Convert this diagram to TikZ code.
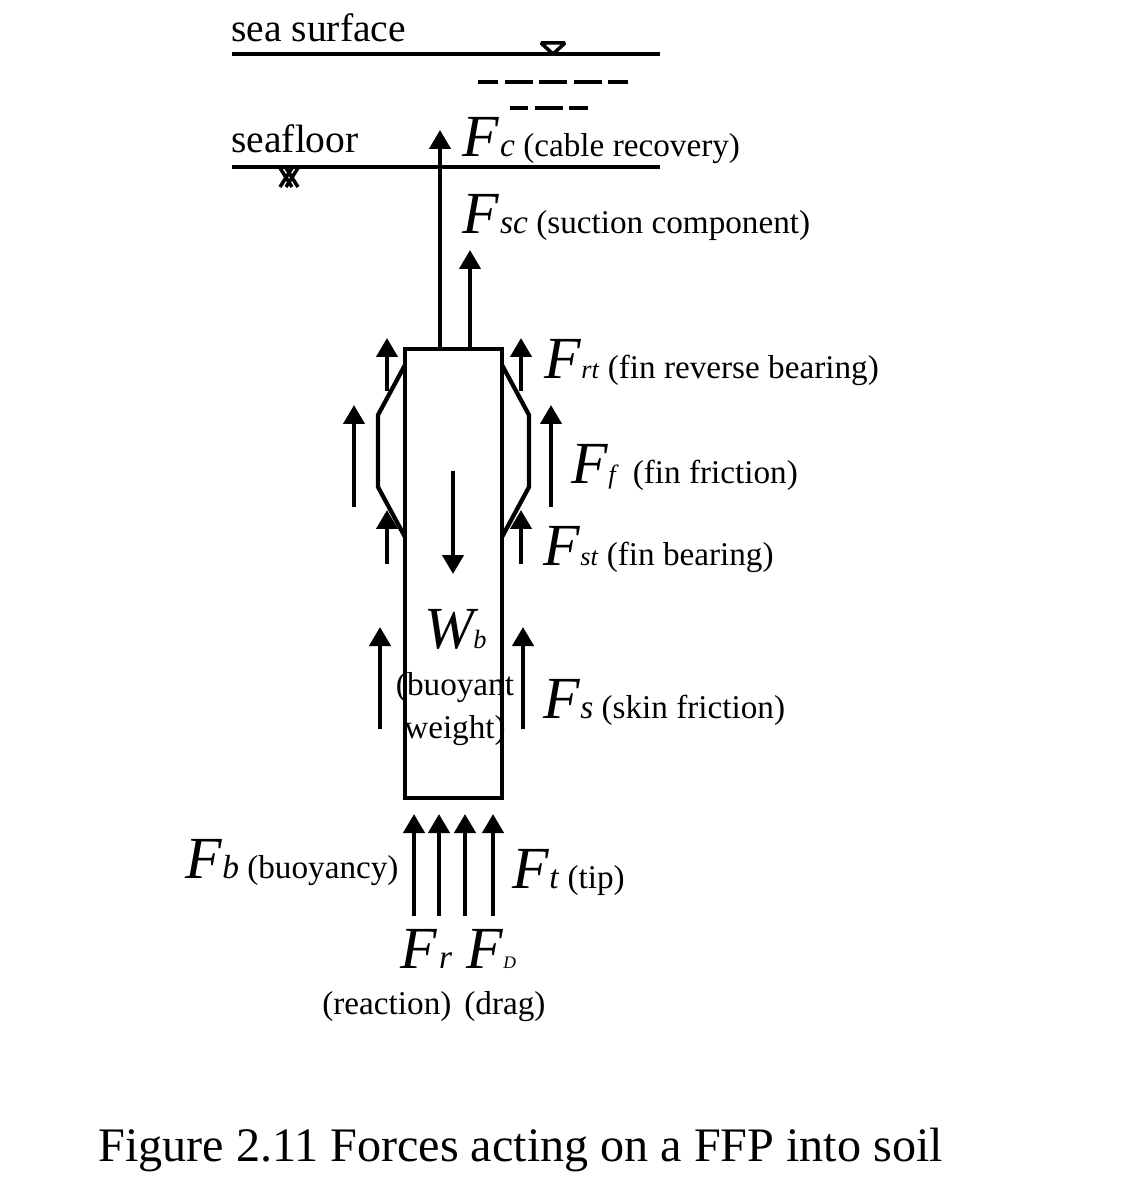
\documentclass[tikz,border=0pt]{standalone}
\usepackage{fontspec}
\setmainfont{Liberation Serif}
\usetikzlibrary{arrows.meta}
\newcommand{\bigF}[1]{{\fontsize{34}{34}\selectfont\textit{#1}}}
\newcommand{\subF}[1]{{\fontsize{19}{19}\selectfont\textit{#1}}}
\newcommand{\tinyF}[1]{{\fontsize{15}{15}\selectfont\textit{#1}}}
\tikzset{
  heavy/.style={line width=0.085cm,line cap=butt,line join=miter},
  force/.style={heavy,-{Triangle[width=0.42cm,length=0.38cm]}},
  label/.style={inner sep=0pt,anchor=base west,font=\fontsize{18.9}{18.9}\selectfont},
  title/.style={inner sep=0pt,anchor=base west,font=\fontsize{22.5}{22.5}\selectfont},
}
\begin{document}
\begin{tikzpicture}[x=0.02cm,y=-0.02cm]
  \useasboundingbox (0,0) rectangle (1121,1195);
  % sea surface
  \node[title] (seasurface) at (231,42) {sea surface};
  \draw[heavy] (232,54) -- (660,54);
  \draw[heavy,line width=0.07cm,line join=bevel] (541,43) -- (565,43) -- (553,54) -- cycle;
  \foreach \a/\b in {478/498,505/533,539/567,574/602,608/628}
    \draw[heavy] (\a,82) -- (\b,82);
  \foreach \a/\b in {510/528,535/563,569/588}
    \draw[heavy] (\a,108) -- (\b,108);
  % seafloor
  \node[title] (seafloor) at (231,153) {seafloor};
  \draw[heavy] (232,167) -- (660,167);
  \draw[heavy,line width=0.07cm] (280,168) -- (292,187) (292,168) -- (280,187);
  \draw[heavy,line width=0.07cm] (286,168) -- (298,187) (298,168) -- (286,187);
  % body and fins
  \node[draw,heavy,minimum width=1.94cm,minimum height=8.98cm,inner sep=0pt] (body) at (453.5,573.5) {};
  \draw[heavy,line join=round] (405,365) -- (378,415) -- (378,487) -- (405,537);
  \draw[heavy,line join=round] (502,365) -- (529,415) -- (529,487) -- (502,537);
  % arrow ends
  \coordinate (cable) at (440,130);
  \coordinate (suction) at (470,250);
  \coordinate (weighttop) at (453,471);
  \coordinate (weightend) at (453,574);
  \draw[force] (body.north -| cable) -- (cable);
  \draw[force] (body.north -| suction) -- (suction);
  \draw[force] (weighttop) -- (weightend);
  % fin arrows
  \foreach \x/\ya/\yb/\n in {387/391/338/a,521/391/338/b,354/507/405/c,551/507/405/d,387/564/510/e,521/564/510/f,380/729/627/g,523/729/627/h}{
    \coordinate (s\n) at (\x,\ya);
    \coordinate (t\n) at (\x,\yb);
    \draw[force] (s\n) -- (t\n);
  }
  % tip arrows
  \foreach \x/\n in {414/a,439/b,465/c,493/d}{
    \coordinate (u\n) at (\x,916);
    \coordinate (v\n) at (\x,814);
    \draw[force] (u\n) -- (v\n);
  }
  % labels
  \node[label] (Fc) at (462,157) {\bigF{F}\kern0.5pt\subF{c} (cable recovery)};
  \node[label] (Fsc) at (462,234) {\bigF{F}\kern0.5pt\subF{sc} (suction component)};
  \node[label] (Frt) at (544,379) {\bigF{F}\tinyF{rt} (fin reverse bearing)};
  \node[label] (Ff) at (571,483) {\bigF{F}\tinyF{f}\kern8pt (fin friction)};
  \node[label] (Fst) at (543,565) {\bigF{F}\tinyF{st} (fin bearing)};
  \node[label] (Wb) at (424,648) {\bigF{W}\kern-3pt\tinyF{b}};
  \node[label,anchor=base] (buoyant) at (455,695) {(buoyant};
  \node[label,anchor=base] (weight) at (455,738) {weight)};
  \node[label] (Fs) at (543,718) {\bigF{F}\subF{s} (skin friction)};
  \node[label] (Fb) at (185,878) {\bigF{F}\subF{b} (buoyancy)};
  \node[label] (Ft) at (512,888) {\bigF{F}\subF{t} (tip)};
  \node[label] (Fr) at (400,968) {\bigF{F}\kern1pt\subF{r}};
  \node[label] (FD) at (466,968) {\bigF{F}{\fontsize{10}{10}\selectfont\textit{D}}};
  \node[label] (reaction) at (322,1014) {(reaction)};
  \node[label] (drag) at (464,1014) {(drag)};
  % caption
  \node[inner sep=0pt,anchor=base west,font=\fontsize{27.4}{27.4}\selectfont] (caption) at (98,1161) {Figure 2.11 Forces acting on a FFP into soil};
\end{tikzpicture}
\end{document}
